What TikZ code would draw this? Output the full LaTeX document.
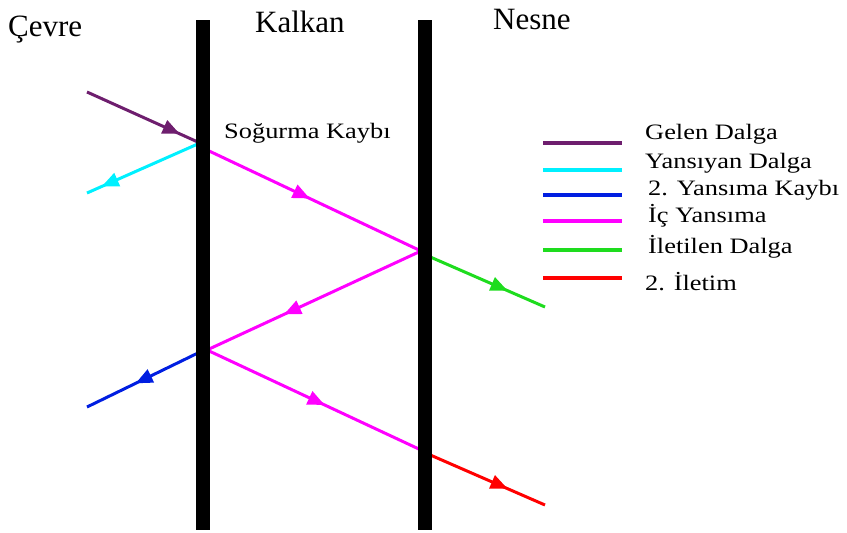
\documentclass[tikz,border=0pt]{standalone}
\usepackage{fontspec}
\setmainfont{Liberation Serif}
\usetikzlibrary{arrows.meta,decorations.markings}
\definecolor{cpurple}{RGB}{110,30,110}
\definecolor{ccyan}{RGB}{0,240,255}
\definecolor{cblue}{RGB}{0,30,225}
\definecolor{cmag}{RGB}{255,0,255}
\definecolor{cgreen}{RGB}{30,220,30}
\definecolor{cred}{RGB}{255,0,0}
\newcommand\wide[1]{\scalebox{1.2}[1]{#1}}
\tikzset{
  wave/.style={line width=3pt},
  midarrow/.style={postaction={decorate},decoration={markings,
     mark=at position #1 with {\arrow{Triangle[length=17pt,width=14pt]}}}},
  barline/.style={line width=14pt,black},
  head/.style={font=\fontsize{31}{34}\selectfont,inner sep=0pt},
  legtext/.style={font=\fontsize{22}{24}\selectfont,inner sep=0pt,anchor=west},
  legline/.style={line width=4pt}
}
\begin{document}
\begin{tikzpicture}[x=1pt,y=-1pt]
\useasboundingbox (0,0) rectangle (847,533);
% bars
\coordinate (b1t) at (203,20); \coordinate (b1b) at (203,530);
\coordinate (b2t) at (425,20); \coordinate (b2b) at (425,530);
% points
\coordinate (p0) at (87,92);
\coordinate (p1) at (200,143);
\coordinate (p1r) at (207,150);
\coordinate (pc) at (87,193);
\coordinate (p2) at (421,251);
\coordinate (p2r) at (428,256);
\coordinate (p3) at (207,350);
\coordinate (p3l) at (200,352);
\coordinate (p4) at (421,450);
\coordinate (p4r) at (428,454);
\coordinate (pg) at (545,307);
\coordinate (pb) at (87,407);
\coordinate (pr) at (545,505);
% waves
\draw[wave,cpurple,midarrow=0.82] (p0) -- (p1);
\draw[wave,ccyan,midarrow=0.87] (p1) -- (pc);
\draw[wave,cmag,midarrow=0.48] (p1r) -- (p2);
\draw[wave,cmag,midarrow=0.64] (p2) -- (p3);
\draw[wave,cmag,midarrow=0.55] (p3) -- (p4);
\draw[wave,cgreen,midarrow=0.68] (p2r) -- (pg);
\draw[wave,cblue,midarrow=0.57] (p3l) -- (pb);
\draw[wave,cred,midarrow=0.68] (p4r) -- (pr);
% bars on top
\draw[barline] (b1t) -- (b1b);
\draw[barline] (b2t) -- (b2b);
% headings
\node[head,anchor=west] (cevre) at (8,30) {Çevre};
\node[head,anchor=west] (kalkan) at (255,22) {Kalkan};
\node[head,anchor=west] (nesne) at (493,20) {Nesne};
\node[legtext] (sog) at (224,133) {\wide{Soğurma Kaybı}};
% legend
\foreach \y/\c/\n in {143/cpurple/l1,170/ccyan/l2,195/cblue/l3,221/cmag/l4,250/cgreen/l5,278/cred/l6}{
  \coordinate (\n a) at (543,\y); \coordinate (\n b) at (622,\y);
  \draw[legline,\c] (\n a) -- (\n b);
}
\node[legtext] (t1) at (645,134) {\wide{Gelen Dalga}};
\node[legtext] (t2) at (645,163) {\wide{Yansıyan Dalga}};
\node[legtext] (t3) at (648,190) {\wide{2. Yansıma Kaybı}};
\node[legtext] (t4) at (648,216) {\wide{İç Yansıma}};
\node[legtext] (t5) at (648,247) {\wide{İletilen Dalga}};
\node[legtext] (t6) at (645,282) {\wide{2. İletim}};
\end{tikzpicture}
\end{document}
